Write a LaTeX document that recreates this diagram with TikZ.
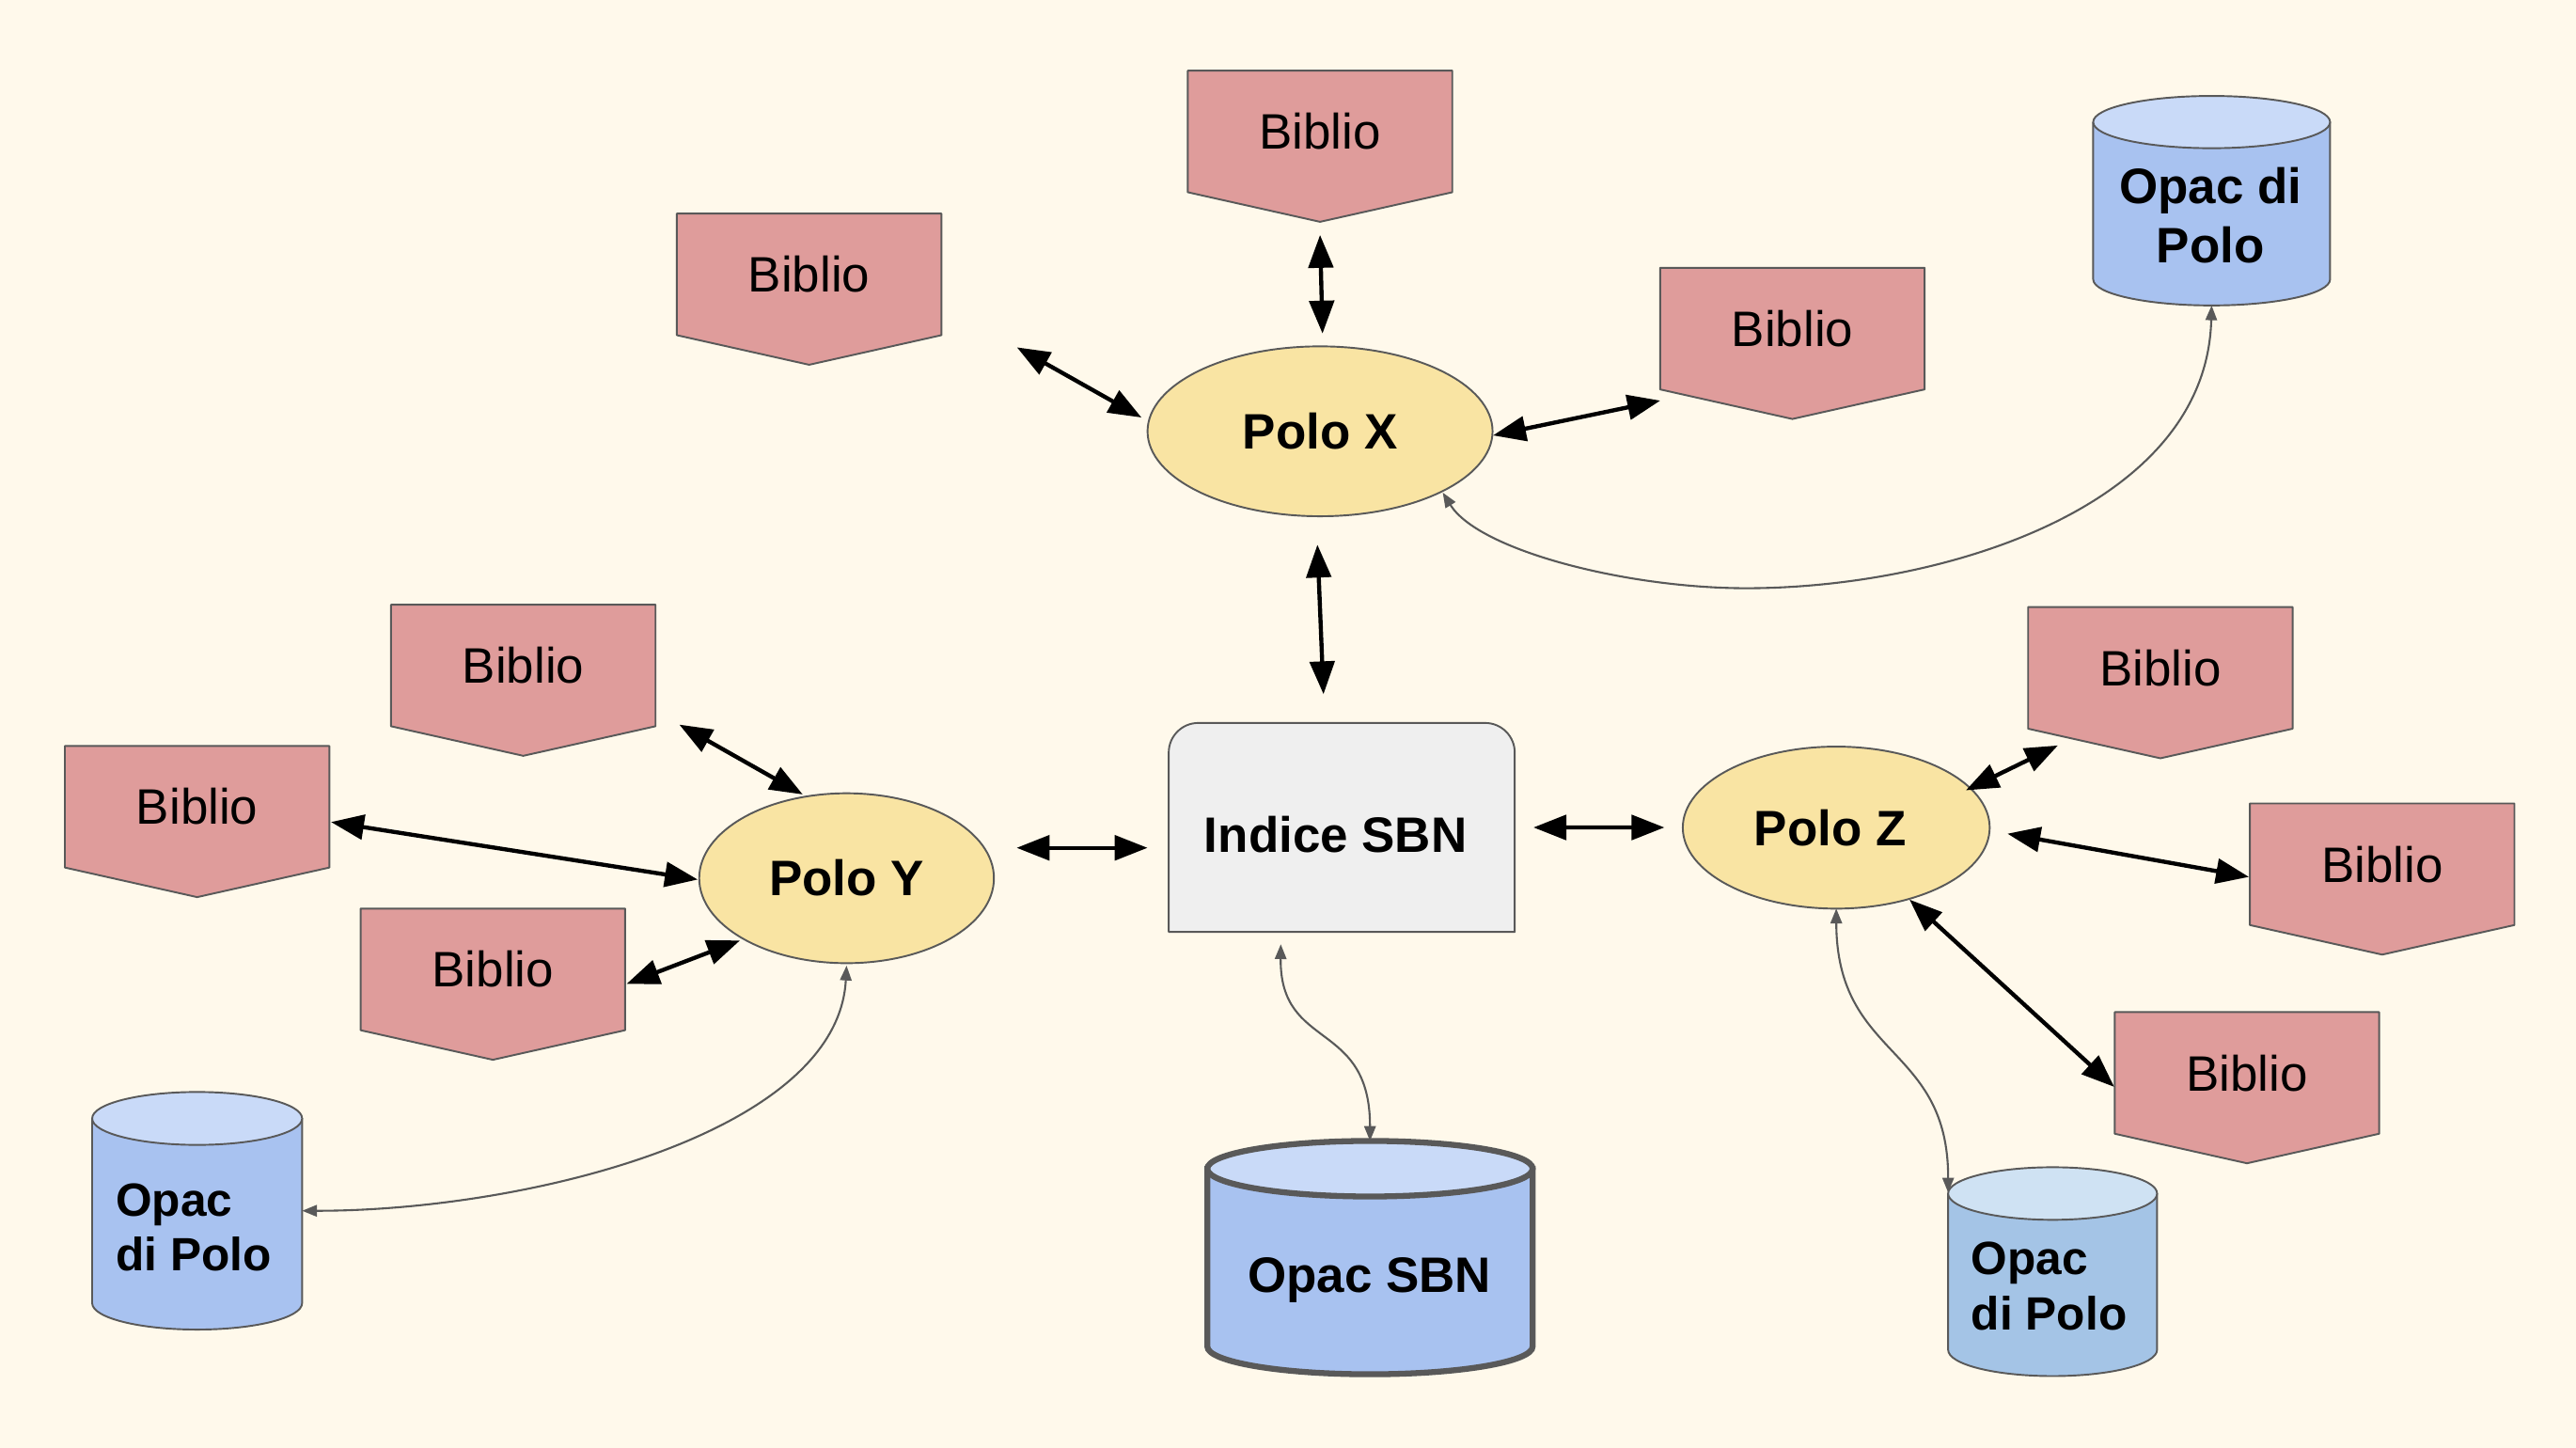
\documentclass[tikz,border=0pt]{standalone}
\usepackage{fontspec}
\setmainfont{Liberation Sans}
\usetikzlibrary{arrows.meta,calc,shapes.geometric}
\definecolor{bg}{RGB}{255,249,235}
\definecolor{bibfill}{RGB}{223,156,155}
\definecolor{polofill}{RGB}{249,228,163}
\definecolor{indfill}{RGB}{239,239,239}
\definecolor{opacbody}{RGB}{168,194,240}
\definecolor{opactop}{RGB}{201,218,248}
\definecolor{opaczbody}{RGB}{164,196,230}
\definecolor{opacztop}{RGB}{207,226,243}
\definecolor{edge}{RGB}{89,89,89}

\newcommand\bibliobox[3]{%
  \path[bibshape] ({#2-80.5},{#3-37}) -- ({#2+80.5},{#3-37}) -- ({#2+80.5},{#3+37}) -- (#2,{#3+55}) -- ({#2-80.5},{#3+37}) -- cycle;
  \node[bibnode] (#1) at (#2,#3) {Biblio};
}
\newcommand\opaccyl[8]{%
  \node[frame, minimum width={2*#5*1pt}, minimum height={(#4-#3+2*#6)*1pt}] (#1) at (#2,{(#3+#4)/2}) {};
  \path[#7] ({#2-#5},#3) -- ({#2-#5},#4) arc[start angle=180,end angle=360,x radius=#5pt,y radius=#6pt] -- ({#2+#5},#3) -- cycle;
  \path[#8] (#2,#3) ellipse[x radius=#5pt, y radius=#6pt];
}

\begin{document}
\begin{tikzpicture}[x=1pt,y=-1pt,
  shapeline/.style={draw=edge, line width=1.1pt, line join=round},
  bibshape/.style={shapeline, fill=bibfill},
  bibnode/.style={rectangle, minimum width=161pt, minimum height=74pt, inner sep=0pt, outer sep=0pt, font=\fontsize{30.3}{36}\selectfont},
  polo/.style={ellipse, shapeline, fill=polofill, inner sep=0pt, outer sep=0pt, font=\bfseries\fontsize{30.3}{36}\selectfont},
  frame/.style={rectangle, inner sep=0pt, outer sep=0pt},
  indshape/.style={shapeline, fill=indfill},
  lbl/.style={inner sep=0pt, font=\bfseries\fontsize{30.3}{36.2}\selectfont},
  smalllbl/.style={inner sep=0pt, align=left, anchor=west, font=\bfseries\fontsize{28.4}{33.3}\selectfont},
  cylbody/.style={shapeline, fill=opacbody},
  cyltop/.style={shapeline, fill=opactop},
  cylzbody/.style={shapeline, fill=opaczbody},
  cylztop/.style={shapeline, fill=opacztop},
  cylbigbody/.style={draw=edge, line width=3.6pt, fill=opacbody},
  cylbigtop/.style={draw=edge, line width=3.6pt, fill=opactop},
  biarrow/.style={line width=2.5pt, {Triangle[length=20pt,width=15pt]}-{Triangle[length=20pt,width=15pt]}},
  link/.style={draw=edge, line width=1.2pt, {Triangle[length=9pt,width=7pt]}-{Triangle[length=9pt,width=7pt]}}
]
\fill[bg] (0,0) rectangle (1568,881);
\useasboundingbox (0,0) rectangle (1568,881);

% Biblio shapes
\bibliobox{b1}{803.5}{80}
\bibliobox{b2}{492.5}{167}
\bibliobox{b3}{1091}{200}
\bibliobox{by1}{318.5}{405}
\bibliobox{by2}{120}{491}
\bibliobox{by3}{300}{590}
\bibliobox{bz1}{1315}{406.5}
\bibliobox{bz2}{1450}{526}
\bibliobox{bz3}{1367.7}{653}

% Poli
\node[polo, minimum width=210pt, minimum height=103.4pt] (px) at (803.5,262.5) {Polo X};
\node[polo, minimum width=179.4pt, minimum height=103.4pt] (py) at (515.3,534.5) {Polo Y};
\node[polo, minimum width=186.8pt, minimum height=98.6pt] (pz) at (1117.7,503.7) {\hspace*{-7.4pt}Polo Z};

% Indice SBN
\node[frame, minimum width=210.6pt, minimum height=127.2pt] (ind) at (816.7,503.6) {};
\path[indshape] (ind.south west) -- ($(ind.north west)+(0,18)$) arc[start angle=180,end angle=90,radius=18pt]
  -- ($(ind.north east)+(-18,0)$) arc[start angle=90,end angle=0,radius=18pt] -- (ind.south east) -- cycle;
\node[lbl, anchor=base] (indtxt) at (813,518.5) {Indice SBN};

% Opac cylinders
\opaccyl{otr}{1346.2}{74.3}{170}{72.1}{15.9}{cylbody}{cyltop}
\node[lbl, align=center] (otrtxt) at (1345.5,131.3) {Opac di\\Polo};
\opaccyl{oy}{120}{680.7}{793.1}{63.9}{16.1}{cylbody}{cyltop}
\node[smalllbl] (oytxt) at (70.3,747) {Opac\\di Polo};
\opaccyl{oz}{1249.4}{726.4}{821.5}{63.6}{16}{cylzbody}{cylztop}
\node[smalllbl] (oztxt) at (1199.8,782.8) {Opac\\di Polo};
\opaccyl{osbn}{833.9}{711.3}{819.5}{99}{16.9}{cylbigbody}{cylbigtop}
\node[lbl, anchor=base] (osbntxt) at (833.6,786.6) {Opac SBN};

% thick double arrows
\draw[biarrow] ($(b1)+(0,63)$) -- ($(px)+(1.5,-59.5)$);
\draw[biarrow] ($(b2)+(126.5,44.4)$) -- ($(px)+(-108.7,-8.4)$);
\draw[biarrow] ($(px)+(105.3,2.5)$) -- ($(b3)+(-80.4,43.8)$);
\draw[biarrow] ($(px)+(-1.6,69)$) -- ($(ind)+(-11.1,-81.1)$);
\draw[biarrow] ($(by1)+(95,36)$) -- ($(py)+(-26.7,-51)$);
\draw[biarrow] ($(by2)+(81.5,9.3)$) -- ($(py)+(-90.6,0.8)$);
\draw[biarrow] ($(by3)+(81.4,8.8)$) -- ($(py)+(-64.9,37.9)$);
\draw[biarrow] ($(py)+(103.5,-18.5)$) -- ($(ind)+(-118.2,12.4)$);
\draw[biarrow] ($(ind)+(116.7,0)$) -- ($(pz)+(-104.6,-0.1)$);
\draw[biarrow] ($(pz)+(78.9,-22.7)$) -- ($(bz1)+(-62.4,47.2)$);
\draw[biarrow] ($(pz)+(104.2,3.7)$) -- ($(bz2)+(-81.1,7.7)$);
\draw[biarrow] ($(pz)+(44.6,43.8)$) -- ($(bz3)+(-80.8,8.5)$);

% thin curved links
\draw[link] (otr.south) .. controls (1343,310) and (1180,358) .. (1063,358)
  .. controls (990,358) and (900,335) .. ($(px)+(74.7,37.3)$);
\draw[link] ($(py.south)+(0,1.5)$) .. controls (510,690) and (320,737) .. (oy.east);
\draw[link] ($(ind.south)+(-37.1,7.5)$) .. controls (779,640) and (834,620) .. (osbn.north);
\draw[link] (pz.south) .. controls (1118,645) and (1186,635) .. ($(oz.north west)+(0,15.4)$);
\end{tikzpicture}
\end{document}
